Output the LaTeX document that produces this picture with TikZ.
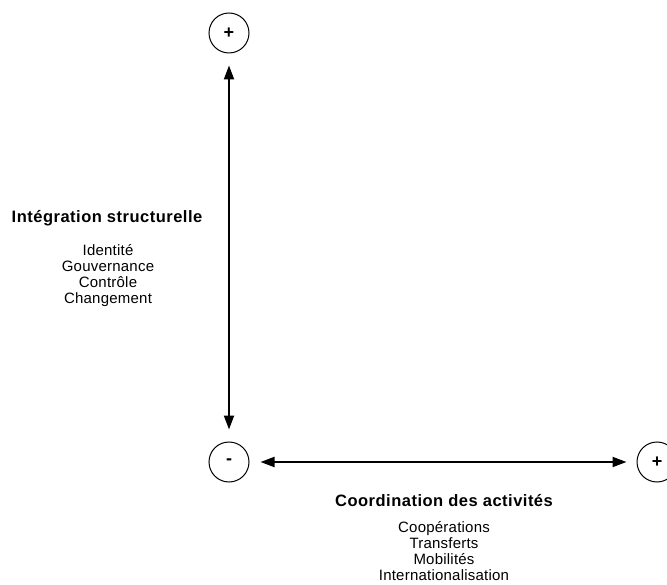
\documentclass[tikz,border=0pt]{standalone}
\usepackage{fontspec}
\setmainfont{Liberation Sans}
\newfontfamily\titlefont[LetterSpace=3]{Liberation Sans}
\newfontfamily\itemfont[LetterSpace=1.5]{Liberation Sans}
\usetikzlibrary{arrows.meta}
\begin{document}
\begin{tikzpicture}[x=1pt,y=-1pt,
  pole/.style={draw,circle,minimum size=40pt,inner sep=0pt,line width=1pt,font=\bfseries\fontsize{18}{20}\selectfont},
  axis/.style={line width=2pt,{Triangle[length=14pt,width=10pt]}-{Triangle[length=14pt,width=10pt]}},
  title/.style={anchor=base,inner sep=0pt,font=\titlefont\bfseries\fontsize{16.5}{18}\selectfont},
  items/.style={anchor=north,inner sep=0pt,align=center,font=\itemfont\fontsize{15}{16.2}\selectfont}]
\useasboundingbox (0,0) rectangle (667,585);
\node[pole] (top) at (229,33) {+};
\node[pole] (origin) at (229,462) {-};
\node[pole] (right) at (657,462) {+};
\draw[axis] ([yshift=12pt]origin.north) -- ([yshift=-12pt]top.south);
\draw[axis] ([xshift=11pt]origin.east) -- ([xshift=-10pt]right.west);
\node[title] (t1) at (107,223) {Intégration structurelle};
\node[items] (l1) at (108,244) {Identité\\Gouvernance\\Contrôle\\Changement};
\node[title] (t2) at (444,506) {Coordination des activités};
\node[items] (l2) at (444,521) {Coopérations\\Transferts\\Mobilités\\Internationalisation};
\end{tikzpicture}
\end{document}
